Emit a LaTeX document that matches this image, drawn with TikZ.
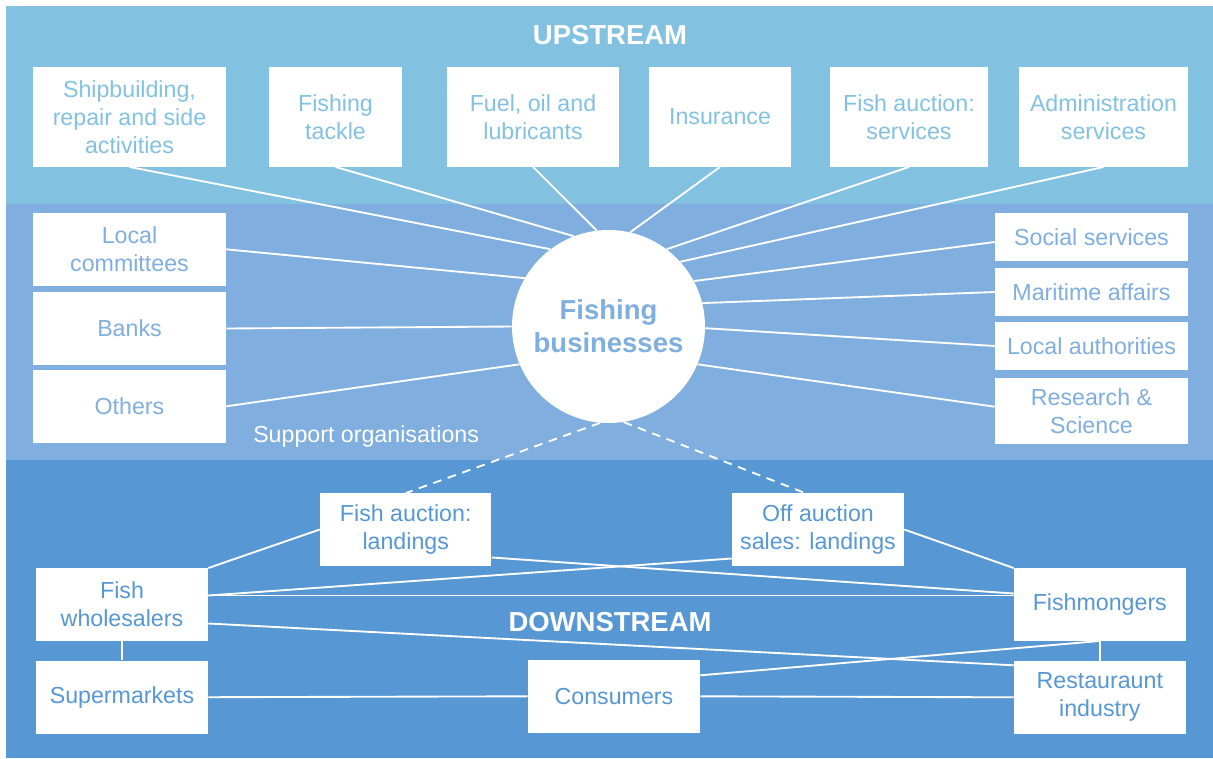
\documentclass[tikz,border=0pt]{standalone}
\usepackage{fontspec}
\setmainfont{Liberation Sans}
\usetikzlibrary{calc}
\definecolor{upc}{RGB}{131,193,225}
\definecolor{midc}{RGB}{128,174,223}
\definecolor{downc}{RGB}{87,151,211}
\tikzset{
  box/.style={fill=white, draw=none, inner sep=0pt, align=center,
    font=\fontsize{17.4}{21}\selectfont},
  upbox/.style={box, text=upc},
  midbox/.style={box, text=midc},
  downbox/.style={box, text=downc},
  link/.style={draw=white, line width=1.4pt},
  dlink/.style={draw=white, line width=1.4pt, dash pattern=on 6.5pt off 5pt},
  head/.style={text=white, font=\bfseries\fontsize{20.6}{24.7}\selectfont, inner sep=0pt}
}
\begin{document}
\begin{tikzpicture}[x=0.75pt,y=-0.75pt]
\useasboundingbox (0,0) rectangle (1213,758);
% bands
\fill[upc] (6,6) rectangle (1213,204);
\fill[midc] (6,204) rectangle (1213,460);
\fill[downc] (6,460) rectangle (1213,758);

\node[head] (up) at (610,35) {UPSTREAM};
\node[head] (down) at (610,621.7) {DOWNSTREAM};
\node[text=white, font=\fontsize{17.4}{21}\selectfont, inner sep=0pt, anchor=base west] (sup) at (253,442) {Support organisations};

% circle
\node[circle, fill=white, inner sep=0pt, minimum size=144.75pt, align=center,
  text=midc, font=\bfseries\fontsize{20.6}{24.7}\selectfont] (c) at (608.5,326.5) {Fishing\\businesses};

% upstream boxes
\node[upbox, minimum width=144.75pt, minimum height=74.8pt] (ship) at (129.5,116.8) {Shipbuilding,\\repair and side\\activities};
\node[upbox, minimum width=99.75pt, minimum height=74.8pt] (tackle) at (335.5,116.8) {Fishing\\tackle};
\node[upbox, minimum width=129pt, minimum height=74.8pt] (fuel) at (533,116.8) {Fuel, oil and\\lubricants};
\node[upbox, minimum width=106.5pt, minimum height=74.8pt] (ins) at (720,116.8) {Insurance};
\node[upbox, minimum width=118.5pt, minimum height=74.8pt] (fas) at (909,116.8) {Fish auction:\\services};
\node[upbox, minimum width=126.75pt, minimum height=74.8pt] (adm) at (1103.5,116.8) {Administration\\services};

% support boxes left
\node[midbox, minimum width=144.75pt, minimum height=54.5pt] (lc) at (129.5,249.3) {Local\\committees};
\node[midbox, minimum width=144.75pt, minimum height=54.3pt] (banks) at (129.5,328.5) {Banks};
\node[midbox, minimum width=144.75pt, minimum height=54.5pt] (oth) at (129.5,406.3) {Others};
% support boxes right
\node[midbox, minimum width=144.75pt, minimum height=35.5pt] (soc) at (1091.5,237) {Social services};
\node[midbox, minimum width=144.75pt, minimum height=35.5pt] (mar) at (1091.5,292) {Maritime affairs};
\node[midbox, minimum width=144.75pt, minimum height=35.5pt] (la) at (1091.5,346) {Local authorities};
\node[midbox, minimum width=144.75pt, minimum height=49.5pt] (rs) at (1091.5,411.3) {Research \&\\Science};

% downstream boxes
\node[downbox, minimum width=128.6pt, minimum height=54.3pt] (fal) at (405.75,529.5) {Fish auction:\\landings};
\node[downbox, minimum width=129pt, minimum height=54.3pt] (oal) at (818,529.5) {Off auction\\sales: landings};
\node[downbox, minimum width=129pt, minimum height=54.3pt] (fw) at (122,604.5) {Fish\\wholesalers};
\node[downbox, minimum width=129pt, minimum height=54.7pt] (sm) at (122,697.2) {Supermarkets};
\node[downbox, minimum width=129pt, minimum height=54.5pt] (con) at (614,696.3) {Consumers};
\node[downbox, minimum width=128.7pt, minimum height=54.3pt] (fm) at (1099.8,604.5) {Fishmongers};
\node[downbox, minimum width=128.7pt, minimum height=54.5pt] (ri) at (1099.8,697.3) {Restauraunt\\industry};

% upstream links
\draw[link] (ship.south) -- (c.127);
\draw[link] (tackle.south) -- (c.111);
\draw[link] (fuel.south) -- (c.97);
\draw[link] (ins.south) -- (c.77);
\draw[link] (fas.south) -- (c.53);
\draw[link] (adm.south) -- (c.42.5);
% support links
\draw[link] (lc.east) -- (c.150.7);
\draw[link] (banks.east) -- (c.west);
\draw[link] (oth.east) -- (c.203.5);
\draw[link] ($(soc.west)+(0,5)$) -- (c.28.5);
\draw[link] (mar.west) -- (c.14);
\draw[link] (la.west) -- (c.-1.5);
\draw[link] ($(rs.west)+(0,-4.6)$) -- (c.-23.5);
% dashed links
\draw[dlink] (c.-95) -- (fal.north);
\draw[dlink] (c.-81) -- ($(oal.north)+(-13,0)$);
% downstream links
\draw[link] (fw.north east) -- (fal.west);
\draw[link] ($(fal.east)+(0,28)$) -- ($(fm.west)+(0,-11)$);
\draw[link] ($(fw.east)+(0,-9)$) -- ($(oal.west)+(0,29)$);
\draw[link] ($(fw.east)+(0,-9)$) -- ($(fm.west)+(0,-9)$);
\draw[link] (oal.east) -- (fm.north west);
\draw[link] ($(fw.east)+(0,19)$) -- ($(ri.west)+(0,-32)$);
\draw[link] ($(con.east)+(0,-21)$) -- (fm.south);
\draw[link] (fm.south) -- (ri.north);
\draw[link] (fw.south) -- (sm.north);
\draw[link] (sm.east) -- (con.west);
\draw[link] (con.east) -- (ri.west);
\end{tikzpicture}
\end{document}
